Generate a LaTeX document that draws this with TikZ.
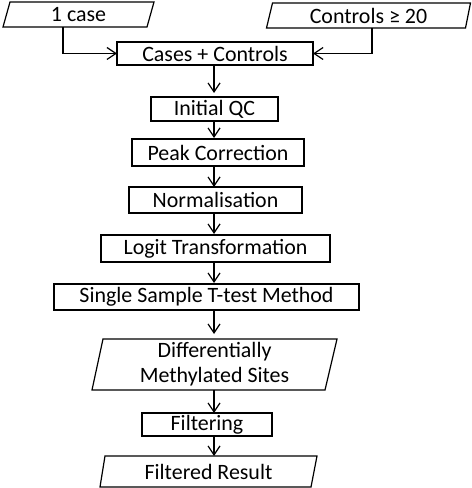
\documentclass[tikz,border=0pt]{standalone}
\usepackage{fontspec}
\setmainfont{Carlito}
\usetikzlibrary{arrows.meta}
\begin{document}
\begin{tikzpicture}[x=1bp,y=-1bp,
  every node/.style={inner sep=0pt, outer sep=0pt, font=\fontsize{22}{25}\selectfont},
  box/.style={draw, line width=1.2bp},
  para/.style={},
  pline/.style={line width=1.2bp},
  arr/.style={line width=1.2bp, -{Straight Barb[length=9bp,width=12bp,line width=1.2bp]}}]
\useasboundingbox (0,0) rectangle (472,488);

% input parallelograms
\node[para, minimum width=151bp, minimum height=25bp] (case) at (78.5,14.5) {1 case};
\node[para, minimum width=204bp, minimum height=25bp] (ctrl) at (368.5,15.5) {Controls ≥ 20};
\draw[pline] (case.south west) -- ([xshift=7bp]case.north west) -- (case.north east) -- ([xshift=-7bp]case.south east) -- cycle;
\draw[pline] (ctrl.south west) -- ([xshift=6bp]ctrl.north west) -- (ctrl.north east) -- ([xshift=-5bp]ctrl.south east) -- cycle;

% process boxes
\node[box, minimum width=196bp, minimum height=23bp] (cc) at (215,53.5) {Cases + Controls};
\node[box, minimum width=127bp, minimum height=24bp] (qc) at (214.5,109) {Initial QC};
\node[box, minimum width=172bp, minimum height=27bp] (pc) at (218,152.5) {Peak Correction};
\node[box, minimum width=173bp, minimum height=26bp] (norm) at (215.5,200) {Normalisation};
\node[box, minimum width=229bp, minimum height=27bp] (logit) at (215.5,248.5) {Logit Transformation};
\node[box, minimum width=305bp, minimum height=26bp] (sst) at (206.5,297) {Single Sample T-test Method};

% output parallelograms
\node[para, align=center, minimum width=245bp, minimum height=51bp] (dms) at (214.5,364.5) {Differentially\\Methylated Sites};
\draw[pline] (dms.south west) -- ([xshift=11bp]dms.north west) -- (dms.north east) -- ([xshift=-12bp]dms.south east) -- cycle;
\node[box, minimum width=130bp, minimum height=23bp] (filt) at (207,424.5) {Filtering};
\node[para, minimum width=217bp, minimum height=31bp] (fr) at (208.5,471.5) {Filtered Result};
\draw[pline] (fr.south west) -- ([xshift=5bp]fr.north west) -- (fr.north east) -- ([xshift=-6bp]fr.south east) -- cycle;

% connectors
\coordinate (ax) at (214,0);
\coordinate (lx) at (63,0);
\coordinate (rx) at (372,0);
\draw[arr] (case.south -| lx) |- (cc.west);
\draw[arr] (ctrl.south -| rx) |- (cc.east);
\draw[arr] (cc.south -| ax) -- ([yshift=4bp]qc.north -| ax);
\draw[arr] (qc.south -| ax) -- ([yshift=1bp]pc.north -| ax);
\draw[arr] (pc.south -| ax) -- (norm.north -| ax);
\draw[arr] (norm.south -| ax) -- ([yshift=1bp]logit.north -| ax);
\draw[arr] (logit.south -| ax) -- ([yshift=1bp]sst.north -| ax);
\draw[arr] (sst.south -| ax) -- ([yshift=5bp]dms.north -| ax);
\draw[arr] (dms.south -| ax) -- (filt.north -| ax);
\draw[arr] (filt.south -| ax) -- (fr.north -| ax);
\end{tikzpicture}
\end{document}
